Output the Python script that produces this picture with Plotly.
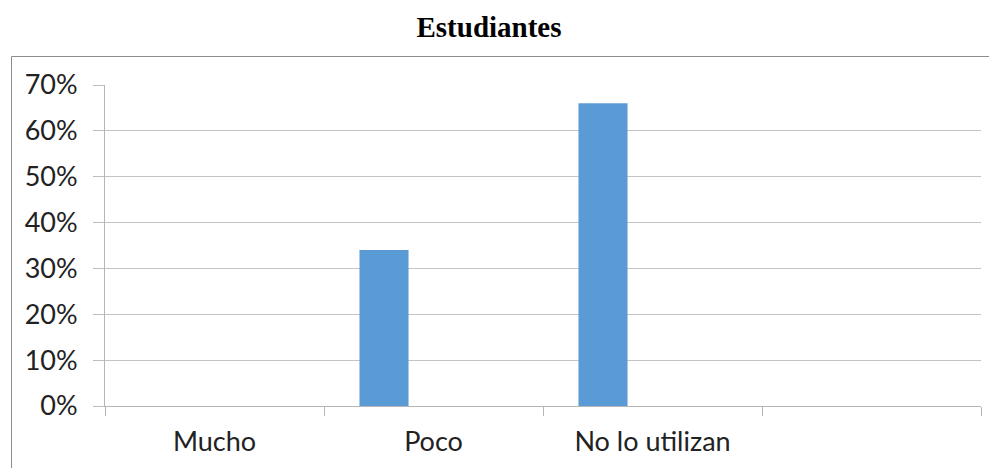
import plotly.graph_objects as go

categories = ["Mucho", "Poco", "No lo utilizan", " "]
values = [0.0, 0.34, 0.66, None]
y_ticks = [0, 0.1, 0.2, 0.3, 0.4, 0.5, 0.6, 0.7]
y_labels = ["0%", "10%", "20%", "30%", "40%", "50%", "60%", "70%"]
title_text = "Estudiantes"

W, H = 989, 468
L, R, T, B = 105, 8, 85, 62
pw = W - L - R
ph = H - T - B

fig = go.Figure()
fig.add_trace(go.Bar(
    x=categories, y=values,
    width=0.224, offset=-0.338,
    marker=dict(color="#5B9BD5", line=dict(width=0)),
    hoverinfo="x+y",
))

fig.update_layout(
    width=W, height=H,
    margin=dict(l=L, r=R, t=T, b=B, pad=0),
    paper_bgcolor="white", plot_bgcolor="white",
    showlegend=False,
    title=dict(text=title_text, x=489 / W, xanchor="center",
               y=1 - 27 / H, yanchor="middle", yref="container", xref="container",
               font=dict(family="Liberation Serif", size=29, color="#000000", weight="bold")),
    font=dict(family="Lato", size=27, color="#222222"),
    xaxis=dict(
        type="category", tickson="boundaries", ticks="outside", ticklen=9,
        tickcolor="#B5B5B5", tickwidth=1,
        showline=True, linecolor="#B5B5B5", linewidth=1,
        showgrid=False, zeroline=False,
        range=[-0.5, 3.5], tickfont=dict(family="Lato", size=27, color="#222222"),
        ticklabelstandoff=12,
    ),
    yaxis=dict(
        range=[0, 0.7], tickvals=y_ticks, ticktext=y_labels,
        ticks="outside", ticklen=11, tickcolor="#BDBDBD",
        showline=True, linecolor="#B5B5B5", linewidth=1,
        showgrid=True, gridcolor="#C4C4C4", gridwidth=1,
        zeroline=False, tickfont=dict(family="Lato", size=27, color="#222222"),
        ticklabelstandoff=10,
    ),
)

# outer chart frame (extends past right and bottom edge)
fig.add_shape(type="rect", xref="paper", yref="paper",
              x0=(11.5 - L) / pw, x1=(W + 40 - L) / pw,
              y0=-(B + 40) / ph, y1=(H - B - 56.5) / ph,
              line=dict(color="#8C8C8C", width=1), fillcolor="rgba(0,0,0,0)", layer="below")

fig.write_html("out.html", config={"displayModeBar": False},
               post_script="document.body.style.margin='0';document.body.style.overflow='hidden';")
